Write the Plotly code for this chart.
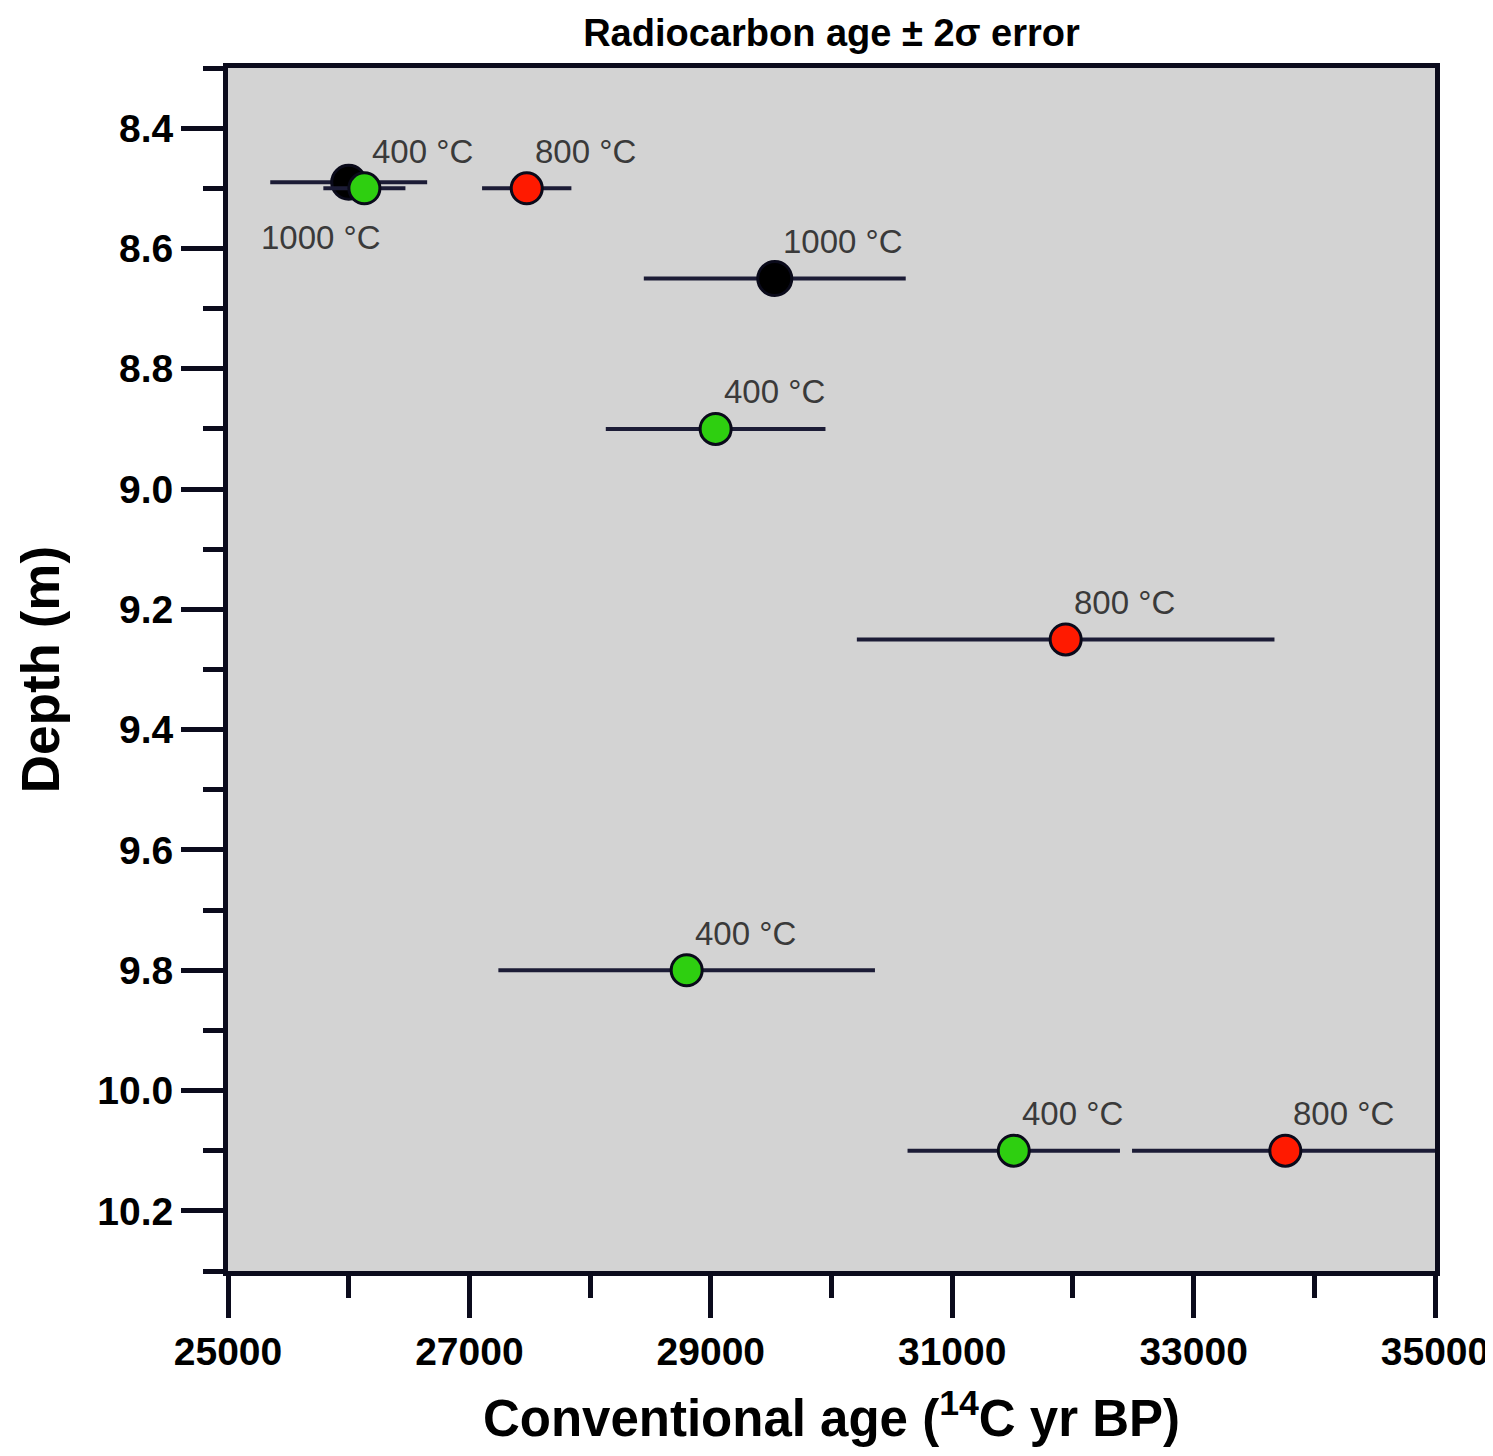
import plotly.graph_objects as go

# ---- data ----
temps_1000_age = [26000, 29530]
temps_1000_depth = [8.49, 8.65]
temps_1000_err = [650, 1085]
temps_1000_label = ["1000 °C", "1000 °C"]

temps_400_age = [26130, 29040, 28800, 31510]
temps_400_depth = [8.50, 8.90, 9.80, 10.10]
temps_400_err = [340, 910, 1560, 880]
temps_400_label = ["400 °C", "400 °C", "400 °C", "400 °C"]

temps_800_age = [27475, 31940, 33760]
temps_800_depth = [8.50, 9.25, 10.10]
temps_800_err = [370, 1730, 1270]
temps_800_label = ["800 °C", "800 °C", "800 °C"]

x_ticks = [25000, 27000, 29000, 31000, 33000, 35000]
y_ticks = [8.4, 8.6, 8.8, 9.0, 9.2, 9.4, 9.6, 9.8, 10.0, 10.2]

FONT = "Liberation Sans, Arial, sans-serif"
AXC = "#0b0b1c"
BAR = "#1c1c36"

fig = go.Figure()

series = [
    (temps_1000_age, temps_1000_depth, temps_1000_err, "#000000", "1000 °C", 34),
    (temps_800_age, temps_800_depth, temps_800_err, "#ff1a00", "800 °C", 31),
    (temps_400_age, temps_400_depth, temps_400_err, "#2ecf10", "400 °C", 31),
]
for ages, depths, errs, col, name, sz in series:
    fig.add_trace(go.Scatter(
        x=ages, y=depths, mode="markers", name=name,
        marker=dict(size=sz, color=col, line=dict(color="#0a0a1a", width=3)),
        error_x=dict(type="data", array=errs, visible=True, thickness=4,
                     width=0, color=BAR),
        showlegend=False, cliponaxis=True,
    ))

# labels
def add_labels(ages, depths, labels, special=None):
    for i, (a, d, t) in enumerate(zip(ages, depths, labels)):
        if special and i in special:
            xs, ys, xa = special[i]
        else:
            xs, ys, xa = 6, 37, "left"
        fig.add_annotation(x=a, y=d, text=t, showarrow=False, xanchor=xa,
                           yanchor="middle", xshift=xs, yshift=ys,
                           font=dict(family=FONT, size=33, color="#3a3a3a"))

add_labels(temps_1000_age, temps_1000_depth, temps_1000_label,
           special={0: (-28, -55, "center")})
add_labels(temps_800_age, temps_800_depth, temps_800_label)
add_labels(temps_400_age, temps_400_depth, temps_400_label)

tickfont = dict(family=FONT, size=39, color="#000000", weight=700)

fig.update_layout(
    width=1493, height=1456,
    margin=dict(l=220, r=66, t=60, b=193),
    paper_bgcolor="white", plot_bgcolor="#d3d3d3",
    title=dict(text="Radiocarbon age ± 2σ error", x=0.5, xref="paper",
               y=1 - 25 / 1456, yref="container", yanchor="middle", xanchor="center",
               font=dict(family=FONT, size=38, color="#000000", weight=700)),
    xaxis=dict(
        range=[25000, 35000], tickvals=x_ticks, tickformat="d", automargin=False,
        ticks="outside", ticklen=42, tickwidth=5, tickcolor=AXC,
        showline=True, linewidth=5, linecolor=AXC, mirror=True,
        showgrid=False, zeroline=False, tickfont=tickfont,
        minor=dict(dtick=1000, tick0=25000, ticks="outside", ticklen=22,
                   tickwidth=5, tickcolor=AXC, showgrid=False),
        title=dict(text="Conventional age (<sup>14</sup>C yr BP)", standoff=30,
                   font=dict(family=FONT, size=51, color="#000000", weight=700)),
    ),
    yaxis=dict(
        range=[10.3, 8.3], tickvals=y_ticks, tickformat=".1f", automargin=False,
        ticks="outside", ticklen=42, tickwidth=5, tickcolor=AXC,
        showline=True, linewidth=5, linecolor=AXC, mirror=True,
        showgrid=False, zeroline=False, tickfont=tickfont,
        minor=dict(dtick=0.1, tick0=8.3, ticks="outside", ticklen=20,
                   tickwidth=5, tickcolor=AXC, showgrid=False),
        title=dict(text="Depth (m)", standoff=22,
                   font=dict(family=FONT, size=53, color="#000000", weight=700)),
    ),
)

fig.write_html("out.html")
